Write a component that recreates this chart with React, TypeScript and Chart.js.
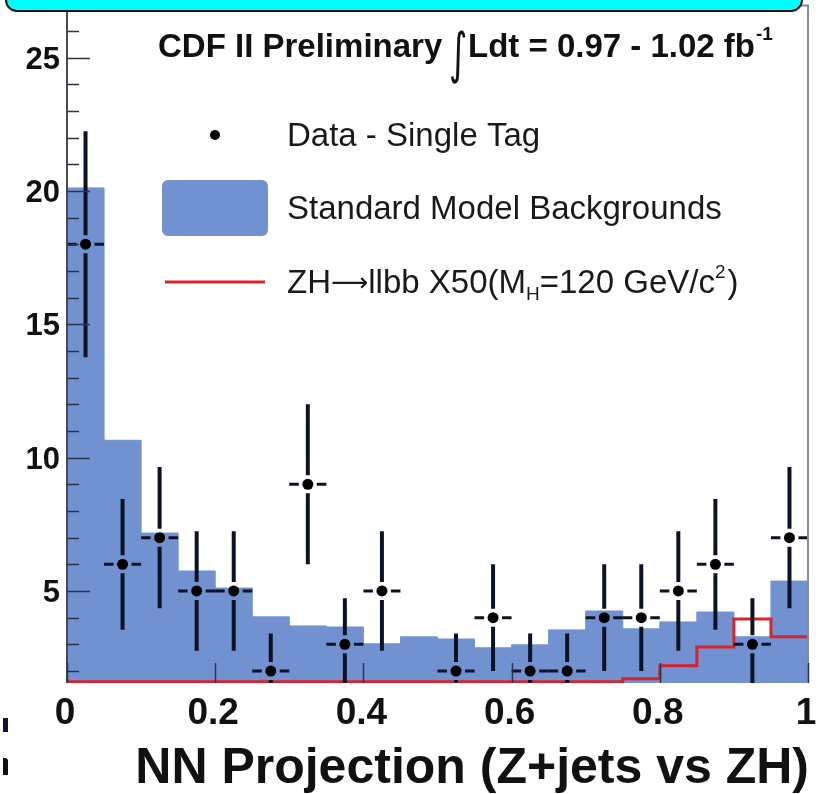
import { useEffect, useRef } from "react";
import { Chart, registerables } from "chart.js";

Chart.register(...registerables);

// ---- data ----
const binEdges = [0, 0.05, 0.1, 0.15, 0.2, 0.25, 0.3, 0.35, 0.4, 0.45, 0.5, 0.55, 0.6, 0.65, 0.7, 0.75, 0.8, 0.85, 0.9, 0.95, 1];
const binCenters = [0.025, 0.075, 0.125, 0.175, 0.225, 0.275, 0.325, 0.375, 0.425, 0.475, 0.525, 0.575, 0.625, 0.675, 0.725, 0.775, 0.825, 0.875, 0.925, 0.975];
const smBackgrounds = [20.11, 10.65, 7.17, 5.75, 5.11, 4.03, 3.69, 3.65, 3.02, 3.28, 3.2, 2.87, 2.98, 3.54, 4.25, 3.58, 3.84, 4.21, 3.28, 5.37];
const signalZHx50 = [1.6, 1.6, 1.6, 1.6, 1.6, 1.6, 1.6, 1.6, 1.6, 1.6, 1.6, 1.6, 1.6, 1.6, 1.6, 1.71, 2.2, 2.9, 3.95, 3.28];
const dataSingleTag: (number | null)[] = [18, 6, 7, 5, 5, 2, 9, 3, 5, null, 2, 4, 2, 2, 4, 4, 5, 6, 3, 7];
const dataErrors = [4.24, 2.45, 2.65, 2.24, 2.24, 1.41, 3, 1.73, 2.24, 0, 1.41, 2, 1.41, 1.41, 2, 2, 2.24, 2.45, 1.73, 2.65];
const xTickValues = [0, 0.2, 0.4, 0.6, 0.8, 1];
const xTickLabels = ["0", "0.2", "0.4", "0.6", "0.8", "1"];
const yTickValues = [5, 10, 15, 20, 25];
const yTickLabels = ["5", "10", "15", "20", "25"];
const Y_MIN = 1.55;
const Y_MAX = 26.95;

const xTitle = "NN Projection (Z+jets vs ZH)";
const headerLeft = "CDF II Preliminary";
const headerRight = "Ldt = 0.97 - 1.02 fb";
const legendData = "Data - Single Tag";
const legendBg = "Standard Model Backgrounds";

const BLUE = "#7291d0";
const RED = "#d8232a";
const INK = "#0c1226";
const SANS = "'Liberation Sans', Arial, Helvetica, sans-serif";

function stepPoints(values: number[]) {
  const pts = values.map((v, i) => ({ x: binEdges[i], y: v }));
  pts.push({ x: binEdges[binEdges.length - 1], y: values[values.length - 1] });
  return pts;
}

type Part = { text: string; font: string; dy?: number; dx?: number };
function drawRich(ctx: CanvasRenderingContext2D, x: number, y: number, parts: Part[]) {
  let cx = x;
  for (const p of parts) {
    ctx.font = p.font;
    ctx.fillText(p.text, cx, y + (p.dy || 0));
    cx += ctx.measureText(p.text).width + (p.dx || 0);
  }
}

const decorPlugin = {
  id: "cdfDecor",
  beforeDatasetDraw(chart: any, args: any) {
    if (args.index !== 0) return;
    const { ctx, chartArea, scales } = chart;
    const x = scales.x;
    const y = scales.y;
    ctx.save();
    ctx.beginPath();
    ctx.rect(chartArea.left, chartArea.top, chartArea.right - chartArea.left, chartArea.bottom - chartArea.top);
    ctx.clip();
    ctx.strokeStyle = INK;
    ctx.lineCap = "butt";
    const gap = 9;
    dataSingleTag.forEach((v, i) => {
      if (v === null) return;
      const cx = x.getPixelForValue(binCenters[i]);
      const cy = y.getPixelForValue(v);
      const top = y.getPixelForValue(v + dataErrors[i]);
      const bot = y.getPixelForValue(v - dataErrors[i]);
      const l = x.getPixelForValue(binEdges[i]);
      const r = x.getPixelForValue(binEdges[i + 1]);
      ctx.lineWidth = 4;
      ctx.beginPath();
      ctx.moveTo(cx, top);
      ctx.lineTo(cx, cy - gap);
      ctx.moveTo(cx, cy + gap);
      ctx.lineTo(cx, bot);
      ctx.stroke();
      ctx.lineWidth = 3;
      ctx.beginPath();
      ctx.moveTo(l, cy);
      ctx.lineTo(cx - gap, cy);
      ctx.moveTo(cx + gap, cy);
      ctx.lineTo(r, cy);
      ctx.stroke();
    });
    ctx.restore();
  },
  afterDatasetsDraw(chart: any) {
    const { ctx, chartArea, scales } = chart;
    const x = scales.x;
    const y = scales.y;
    ctx.save();
    // frame
    ctx.strokeStyle = "#8a8a8a";
    ctx.lineWidth = 2;
    ctx.beginPath();
    ctx.moveTo(chartArea.left, chartArea.top);
    ctx.lineTo(chartArea.right, chartArea.top);
    ctx.lineTo(chartArea.right, chartArea.bottom);
    ctx.stroke();
    ctx.strokeStyle = "#4a4a52";
    ctx.beginPath();
    ctx.moveTo(chartArea.left, chartArea.top);
    ctx.lineTo(chartArea.left, chartArea.bottom);
    ctx.stroke();
    // y ticks (major + minor, inward)
    ctx.strokeStyle = "#2c3248";
    ctx.lineWidth = 1.5;
    for (let v = Math.ceil(y.min); v <= Math.floor(y.max); v++) {
      const py = Math.round(y.getPixelForValue(v)) + 0.5;
      const len = yTickValues.includes(v) ? 23 : 12;
      ctx.beginPath();
      ctx.moveTo(chartArea.left, py);
      ctx.lineTo(chartArea.left + len, py);
      ctx.stroke();
    }
    // x ticks (inward from the bottom)
    xTickValues.forEach((v) => {
      const px = Math.round(x.getPixelForValue(v)) + 0.5;
      ctx.beginPath();
      ctx.moveTo(px, chartArea.bottom);
      ctx.lineTo(px, chartArea.bottom - 20);
      ctx.stroke();
    });
    ctx.restore();
  },
  afterDraw(chart: any) {
    const { ctx, chartArea, scales } = chart;
    const x = scales.x;
    const y = scales.y;
    ctx.save();
    ctx.fillStyle = "#111";
    // y tick labels
    ctx.font = `bold 31px ${SANS}`;
    ctx.textAlign = "right";
    ctx.textBaseline = "alphabetic";
    yTickValues.forEach((v, i) => {
      ctx.fillText(yTickLabels[i], chartArea.left - 7, y.getPixelForValue(v) + 11);
    });
    // x tick labels
    ctx.font = `bold 37px ${SANS}`;
    ctx.textAlign = "center";
    xTickValues.forEach((v, i) => {
      ctx.fillText(xTickLabels[i], x.getPixelForValue(v) - 2, chartArea.bottom + 41);
    });
    // x title
    ctx.font = `bold 50px ${SANS}`;
    ctx.textAlign = "right";
    ctx.fillText(xTitle, chartArea.right + 1, 783);

    // header
    ctx.textAlign = "left";
    ctx.font = `bold 33px ${SANS}`;
    ctx.fillText(headerLeft, 158, 57);
    ctx.save();
    ctx.translate(449, 72);
    ctx.scale(0.8, 1.25);
    ctx.font = `44px 'DejaVu Sans', sans-serif`;
    ctx.fillText("\u222B", 0, 0);
    ctx.restore();
    drawRich(ctx, 468, 57, [
      { text: headerRight, font: `bold 33px ${SANS}`, dx: 1 },
      { text: "-1", font: `bold 19px ${SANS}`, dy: -17 },
    ]);

    // legend
    ctx.fillStyle = "#000";
    ctx.beginPath();
    ctx.arc(215, 135, 5, 0, Math.PI * 2);
    ctx.fill();
    ctx.fillStyle = BLUE;
    ctx.beginPath();
    (ctx as any).roundRect(162, 180, 106, 56, 6);
    ctx.fill();
    ctx.strokeStyle = RED;
    ctx.lineWidth = 3;
    ctx.beginPath();
    ctx.moveTo(165, 282);
    ctx.lineTo(265, 282);
    ctx.stroke();

    ctx.fillStyle = "#1a1a1a";
    ctx.font = `33px ${SANS}`;
    ctx.fillText(legendData, 287, 146);
    ctx.fillText(legendBg, 287, 219);
    drawRich(ctx, 287, 293, [
      { text: "ZH", font: `33px ${SANS}` },
      { text: "\u27F6", font: `26px 'DejaVu Sans', sans-serif`, dy: -2 },
      { text: "llbb X50(M", font: `33px ${SANS}` },
      { text: "H", font: `19px ${SANS}`, dy: 7 },
      { text: "=120 GeV/c", font: `33px ${SANS}` },
      { text: "2", font: `19px ${SANS}`, dy: -15, dx: 2 },
      { text: ")", font: `33px ${SANS}` },
    ]);
    ctx.restore();
  },
};

export default function App() {
  const canvasRef = useRef<HTMLCanvasElement | null>(null);

  useEffect(() => {
    if (!canvasRef.current) return;
    const dataPoints = dataSingleTag
      .map((v, i) => (v === null ? null : { x: binCenters[i], y: v }))
      .filter((p) => p !== null);
    const chart = new Chart(canvasRef.current, {
      type: "line",
      data: {
        datasets: [
          {
            type: "scatter",
            label: legendData,
            data: dataPoints as any,
            pointRadius: 5.5,
            pointBackgroundColor: "#000",
            pointBorderWidth: 0,
            showLine: false,
          },
          {
            type: "line",
            label: "ZH x50",
            data: stepPoints(signalZHx50) as any,
            stepped: "before",
            borderColor: RED,
            borderWidth: 3,
            pointRadius: 0,
            fill: false,
          },
          {
            type: "line",
            label: legendBg,
            data: stepPoints(smBackgrounds) as any,
            stepped: "before",
            borderColor: BLUE,
            borderWidth: 1,
            backgroundColor: BLUE,
            pointRadius: 0,
            fill: "start",
          },
        ],
      },
      options: {
        animation: false,
        responsive: false,
        events: [],
        layout: { padding: { left: 67, right: 19, top: 5, bottom: 111 } },
        plugins: { legend: { display: false }, tooltip: { enabled: false }, title: { display: false } },
        scales: {
          x: { type: "linear", min: 0, max: 1, display: false },
          y: { type: "linear", min: Y_MIN, max: Y_MAX, display: false },
        },
      },
      plugins: [decorPlugin],
    } as any);
    return () => chart.destroy();
  }, []);

  return (
    <div style={{ position: "absolute", left: 0, top: 0, width: 827, height: 794, background: "#fff", overflow: "hidden" }}>
      <canvas ref={canvasRef} width={827} height={794} style={{ position: "absolute", left: 0, top: 0 }} />
      <div
        style={{
          position: "absolute",
          left: 5,
          top: -22,
          width: 798,
          height: 34,
          boxSizing: "border-box",
          background: "#00ffff",
          border: "2px solid #111",
          borderRadius: 12,
        }}
      />
      <div style={{ position: "absolute", left: 3, top: 718, width: 5, height: 14, background: "#101040" }} />
      <div style={{ position: "absolute", left: 3, top: 758, width: 5, height: 17, background: "#111", borderTopRightRadius: 3 }} />
    </div>
  );
}
